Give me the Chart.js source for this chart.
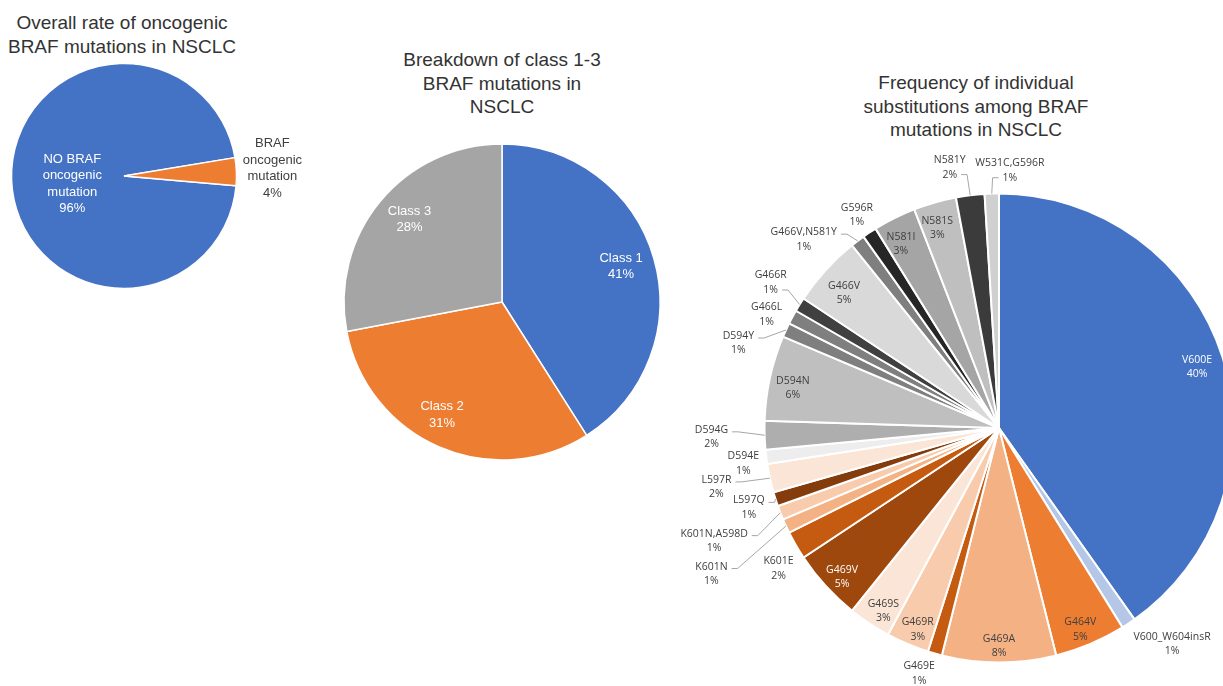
<!DOCTYPE html>
<html>
<head>
<meta charset="utf-8">
<script src="https://cdn.jsdelivr.net/npm/chart.js@4.4.0/dist/chart.umd.min.js"></script>
<style>
  html, body { margin: 0; padding: 0; width: 1223px; height: 686px; overflow: hidden; background: #fff; }
  .title {
    position: absolute;
    font-family: "Liberation Sans", Arial, sans-serif;
    font-size: 19px;
    line-height: 23.5px;
    color: #333;
    text-align: center;
    white-space: nowrap;
    transform: translateX(-50%);
  }
  canvas { position: absolute; }
</style>
</head>
<body>
<div class="title" style="left:122px; top:11px;">Overall rate of oncogenic<br>BRAF mutations in NSCLC</div>
<div class="title" style="left:502px; top:48px;">Breakdown of class 1-3<br>BRAF mutations in<br>NSCLC</div>
<div class="title" style="left:976px; top:71px;">Frequency of individual<br>substitutions among BRAF<br>mutations in NSCLC</div>

<canvas id="overallChart" width="320" height="240" style="left:0px; top:56px;"></canvas>
<canvas id="classChart" width="344" height="344" style="left:330px; top:130px;"></canvas>
<canvas id="subsChart" width="690" height="564" style="left:654px; top:146px;"></canvas>

<script>
// --- data ---
const overallLabels = [["NO BRAF", "oncogenic", "mutation"], ["BRAF", "oncogenic", "mutation"]];
const overallValues = [96, 4];

const classLabels = ["Class 1", "Class 2", "Class 3"];
const classValues = [41, 31, 28];

const subsLabels = [
  "V600E", "V600_W604insR", "G464V", "G469A", "G469E", "G469R", "G469S", "G469V",
  "K601E", "K601N", "K601N,A598D", "L597Q", "L597R", "D594E", "D594G", "D594N",
  "D594Y", "G466L", "G466R", "G466V", "G466V,N581Y", "G596R", "N581I", "N581S",
  "N581Y", "W531C,G596R"
];
// counts (n = 102)
const subsCounts = [41, 1, 5, 8, 1, 3, 3, 5, 2, 1, 1, 1, 2, 1, 2, 6, 1, 1, 1, 5, 1, 1, 3, 3, 2, 1];

// --- styles ---
const subsColors = [
  "#4472C4", "#B4C7E7", "#ED7D31", "#F4B183", "#C55A11", "#F8CBAD", "#FBE5D6", "#9E480E",
  "#C55A11", "#F4B183", "#F8CBAD", "#843C0C", "#FBE5D6", "#EDEDED", "#AEAEAE", "#BFBFBF",
  "#7F7F7F", "#7F7F7F", "#404040", "#D9D9D9", "#7F7F7F", "#262626", "#A5A5A5", "#BFBFBF",
  "#3B3B3B", "#D0D0D0"
];
const DARK = "#404040", WHITE = "#ffffff";
const subsTextColors = subsLabels.map((_, i) => (i === 0 || i === 7) ? WHITE : DARK);

// label placement: [radius factor, dx, dy, leader line]
const subsPlace = [
  [0.9, -3, 3, 0], [1.12, 28, -3, 0], [0.9, -1, 7, 0], [0.9, 0, 7, 0],
  [1.12, -8, -7, 0], [0.9, 1, 7, 0], [0.9, 1, 7, 0], [0.9, -1, 7, 0],
  [1.12, 7, 9, 0], [1.12, -49, 36, 1], [1.12, -40, 18, 1], [1.12, 0, 0, 1],
  [1.12, -26, 3, 1], [1.12, 5, 3, 0], [1.12, -25, 1, 1], [0.9, 0, 5, 0],
  [1.12, -22, 25, 1], [1.12, -1, 11, 0], [1.12, -5, -7, 1], [0.9, 1, 7, 0],
  [1.12, -37, 21, 1], [1.12, 3, 6, 0], [0.9, -4, 5, 0], [0.9, -4, 3, 0],
  [1.12, -17, 0, 1], [1.12, 19, 5, 1]
];
const overallPlace = [[0.46, 0, 6, 0], [1.32, 0, -2, 0]];
const classPlace = [[0.785, 0, -1, 0], [0.78, -11, 0, 0], [0.76, 0, -6, 0]];

// draws name + percent for every slice, optional leader line
const sliceLabels = {
  id: "sliceLabels",
  afterDatasetsDraw(chart, args, opts) {
    const ctx = chart.ctx;
    const meta = chart.getDatasetMeta(0);
    const values = chart.data.datasets[0].data;
    const total = values.reduce((a, b) => a + b, 0);
    ctx.save();
    ctx.font = opts.font;
    ctx.textAlign = "center";
    ctx.textBaseline = "middle";
    meta.data.forEach((arc, i) => {
      const [k, dx, dy, leader] = opts.place[i];
      const mid = (arc.startAngle + arc.endAngle) / 2;
      const r = arc.outerRadius;
      const cx = arc.x + Math.cos(mid) * r * k + dx;
      const cy = arc.y + Math.sin(mid) * r * k + dy;
      const lines = [].concat(chart.data.labels[i], Math.round(values[i] / total * 100) + "%");
      const lh = opts.lineHeight;
      const top = cy - (lines.length - 1) * lh / 2;

      if (leader) {
        const ax = arc.x + Math.cos(mid) * r;
        const ay = arc.y + Math.sin(mid) * r;
        const second = ay > cy + 10;
        const li = second ? lines.length - 1 : 0;
        const ly = top + li * lh + (second ? 0 : 2);
        const lw = ctx.measureText(lines[li]).width;
        const left = cx < ax;
        const sx = left ? cx + lw / 2 + 4 : cx - lw / 2 - 4;
        const ex = left ? sx + 6 : sx - 6;
        ctx.strokeStyle = "#A6A6A6";
        ctx.lineWidth = 1;
        ctx.beginPath();
        ctx.moveTo(sx, ly);
        ctx.lineTo(ex, ly);
        ctx.lineTo(ax, ay);
        ctx.stroke();
      }

      ctx.fillStyle = opts.colors[i];
      lines.forEach((t, j) => ctx.fillText(t, cx, top + j * lh));
    });
    ctx.restore();
  }
};

function makePie(id, labels, values, colors, radius, rotation, border, labelOpts, padding) {
  return new Chart(document.getElementById(id), {
    type: "pie",
    data: {
      labels: labels,
      datasets: [{
        data: values,
        backgroundColor: colors,
        borderColor: "#ffffff",
        borderWidth: border
      }]
    },
    options: {
      responsive: false,
      animation: false,
      events: [],
      rotation: rotation,
      radius: radius,
      layout: { padding: padding || 0 },
      plugins: {
        legend: { display: false },
        tooltip: { enabled: false },
        title: { display: false },
        sliceLabels: labelOpts
      }
    },
    plugins: [sliceLabels]
  });
}

document.fonts.ready.then(() => {
  makePie("overallChart", overallLabels, overallValues, ["#4472C4", "#ED7D31"], 112.5, 95, 1.5, {
    font: "13px 'Liberation Sans', Arial, sans-serif",
    lineHeight: 16.5,
    place: overallPlace,
    colors: [WHITE, DARK]
  }, { left: 0, right: 72, top: 0, bottom: 0 });

  makePie("classChart", classLabels, classValues, ["#4472C4", "#ED7D31", "#A5A5A5"], 158, 0, 1.5, {
    font: "13px 'Liberation Sans', Arial, sans-serif",
    lineHeight: 16.5,
    place: classPlace,
    colors: [WHITE, WHITE, WHITE]
  });

  makePie("subsChart", subsLabels, subsCounts, subsColors, 234.5, 0, 2, {
    font: "10.5px 'Open Sans', sans-serif",
    lineHeight: 14.5,
    place: subsPlace,
    colors: subsTextColors
  });
});
</script>
</body>
</html>
